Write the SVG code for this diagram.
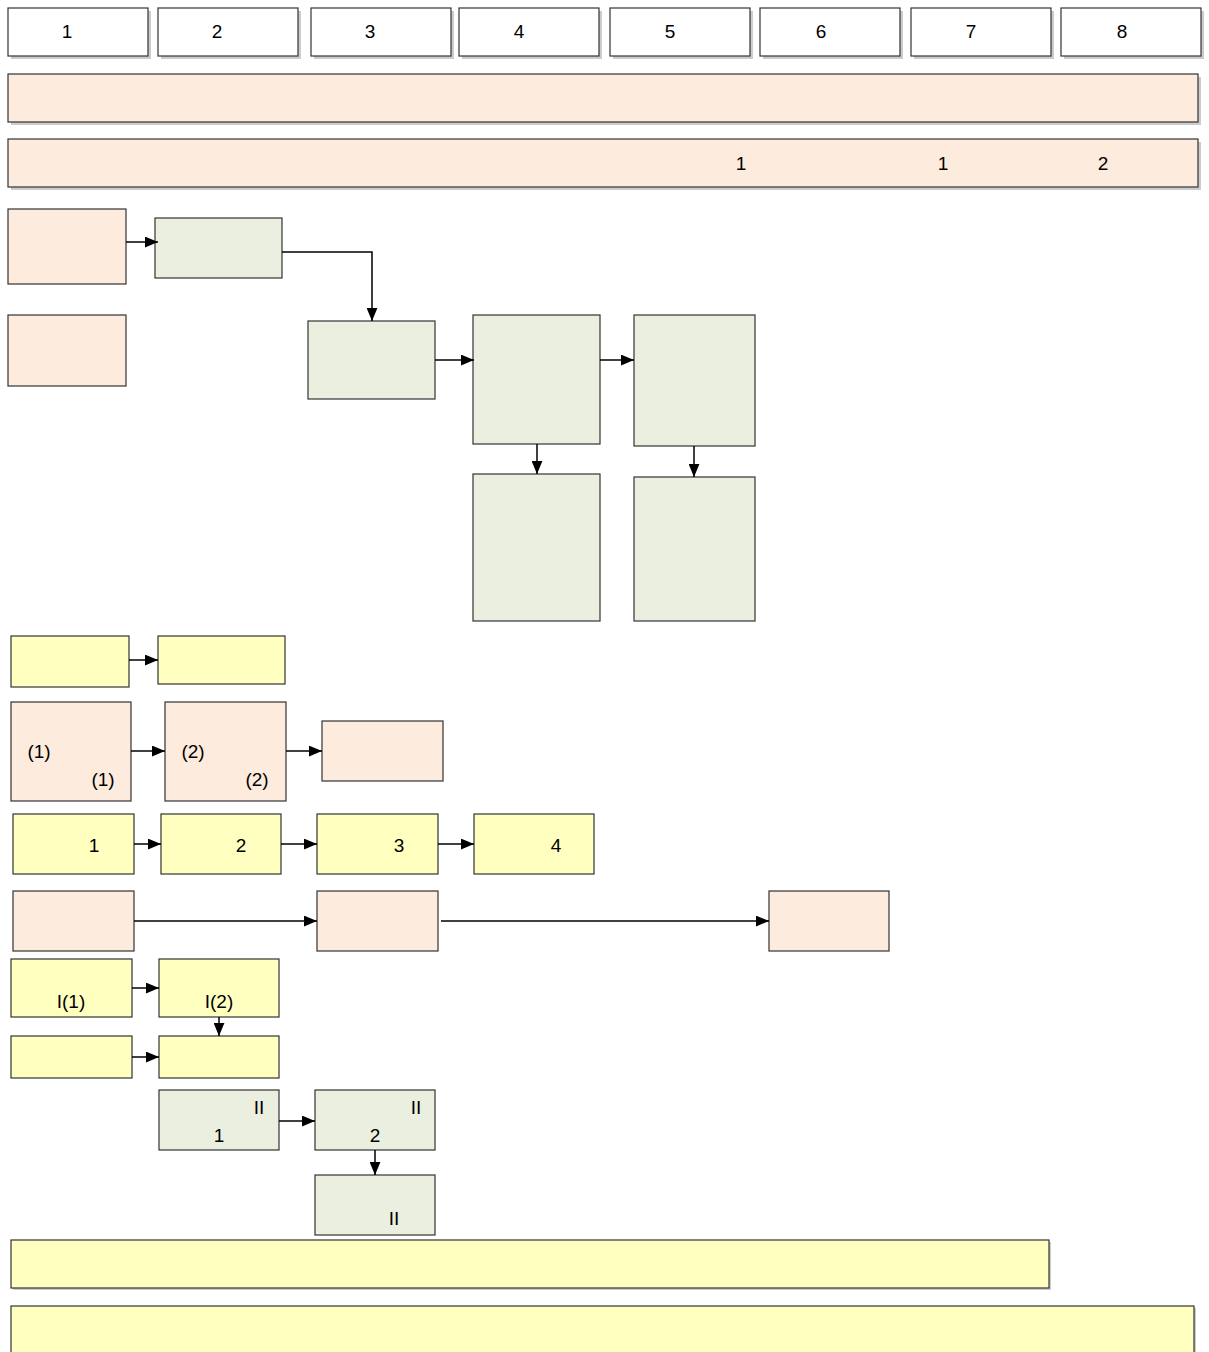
<svg xmlns="http://www.w3.org/2000/svg" width="1209" height="1352" viewBox="0 0 1209 1352">
<defs>
<style>
.w{fill:#ffffff;stroke:#333333;stroke-width:1.2}
.p{fill:#fdebdd;stroke:#333333;stroke-width:1.2}
.g{fill:#ebefdf;stroke:#333333;stroke-width:1.2}
.y{fill:#ffffc0;stroke:#333333;stroke-width:1.2}
.sh{fill:#cccccc}
.c{fill:none;stroke:#000000;stroke-width:1.5}
text{font-family:"Liberation Sans",Arial,sans-serif;font-size:19px;fill:#000000;text-anchor:middle;dominant-baseline:central}
</style>
<marker id="a" viewBox="0 0 12 10" refX="12" refY="5" markerWidth="13" markerHeight="11" markerUnits="userSpaceOnUse" orient="auto"><path d="M0,0 L12,5 L0,10 z" fill="#000000"/></marker>
</defs>
<g id="h1"><rect class="sh" x="11" y="11" width="140" height="48"/><rect class="w" x="8" y="8" width="140" height="48"/><text x="67" y="31">1</text></g>
<g id="h2"><rect class="sh" x="161" y="11" width="140" height="48"/><rect class="w" x="158" y="8" width="140" height="48"/><text x="217" y="31">2</text></g>
<g id="h3"><rect class="sh" x="314" y="11" width="140" height="48"/><rect class="w" x="311" y="8" width="140" height="48"/><text x="370" y="31">3</text></g>
<g id="h4"><rect class="sh" x="462" y="11" width="140" height="48"/><rect class="w" x="459" y="8" width="140" height="48"/><text x="519" y="31">4</text></g>
<g id="h5"><rect class="sh" x="613" y="11" width="140" height="48"/><rect class="w" x="610" y="8" width="140" height="48"/><text x="670" y="31">5</text></g>
<g id="h6"><rect class="sh" x="763" y="11" width="140" height="48"/><rect class="w" x="760" y="8" width="140" height="48"/><text x="821" y="31">6</text></g>
<g id="h7"><rect class="sh" x="914" y="11" width="140" height="48"/><rect class="w" x="911" y="8" width="140" height="48"/><text x="971" y="31">7</text></g>
<g id="h8"><rect class="sh" x="1064" y="11" width="140" height="48"/><rect class="w" x="1061" y="8" width="140" height="48"/><text x="1122" y="31">8</text></g>
<g id="band1"><rect class="sh" x="11" y="77" width="1190" height="48"/><rect class="p" x="8" y="74" width="1190" height="48"/></g>
<g id="band2"><rect class="sh" x="11" y="142" width="1190" height="48"/><rect class="p" x="8" y="139" width="1190" height="48"/><text x="741" y="163">1</text><text x="943" y="163">1</text><text x="1103" y="163">2</text></g>
<g id="A"><rect class="p" x="8" y="209" width="118" height="75"/></g>
<g id="B"><rect class="p" x="8" y="315" width="118" height="71"/></g>
<g id="C"><rect class="g" x="155" y="218" width="127" height="60"/></g>
<g id="D"><rect class="g" x="308" y="321" width="127" height="78"/></g>
<g id="E"><rect class="g" x="473" y="315" width="127" height="129"/></g>
<g id="F"><rect class="g" x="634" y="315" width="121" height="131"/></g>
<g id="G"><rect class="g" x="473" y="474" width="127" height="147"/></g>
<g id="H"><rect class="g" x="634" y="477" width="121" height="144"/></g>
<g id="I"><rect class="y" x="11" y="636" width="118" height="51"/></g>
<g id="J"><rect class="y" x="158" y="636" width="127" height="48"/></g>
<g id="K"><rect class="p" x="11" y="702" width="120" height="99"/><text x="39" y="751">(1)</text><text x="103" y="779">(1)</text></g>
<g id="L"><rect class="p" x="165" y="702" width="121" height="99"/><text x="193" y="751">(2)</text><text x="257" y="779">(2)</text></g>
<g id="M"><rect class="p" x="322" y="721" width="121" height="60"/></g>
<g id="N1"><rect class="y" x="13" y="814" width="121" height="60"/><text x="94" y="845">1</text></g>
<g id="N2"><rect class="y" x="161" y="814" width="120" height="60"/><text x="241" y="845">2</text></g>
<g id="N3"><rect class="y" x="317" y="814" width="121" height="60"/><text x="399" y="845">3</text></g>
<g id="N4"><rect class="y" x="474" y="814" width="120" height="60"/><text x="556" y="845">4</text></g>
<g id="O1"><rect class="p" x="13" y="891" width="121" height="60"/></g>
<g id="O2"><rect class="p" x="317" y="891" width="121" height="60"/></g>
<g id="O3"><rect class="p" x="769" y="891" width="120" height="60"/></g>
<g id="P1"><rect class="y" x="11" y="959" width="121" height="58"/><text x="71" y="1001">I(1)</text></g>
<g id="P2"><rect class="y" x="159" y="959" width="120" height="58"/><text x="219" y="1001">I(2)</text></g>
<g id="Q1"><rect class="y" x="11" y="1036" width="121" height="42"/></g>
<g id="Q2"><rect class="y" x="159" y="1036" width="120" height="42"/></g>
<g id="R1"><rect class="g" x="159" y="1090" width="120" height="60"/><text x="259" y="1107">II</text><text x="219" y="1135">1</text></g>
<g id="R2"><rect class="g" x="315" y="1090" width="120" height="60"/><text x="416" y="1107">II</text><text x="375" y="1135">2</text></g>
<g id="S"><rect class="g" x="315" y="1175" width="120" height="60"/><text x="394" y="1218">II</text></g>
<g id="T"><rect class="sh" x="13" y="1242" width="1038" height="48"/><rect class="y" x="11" y="1240" width="1038" height="48"/></g>
<g id="U"><rect class="sh" x="13" y="1308" width="1183" height="60"/><rect class="y" x="11" y="1306" width="1183" height="60"/></g>
<g id="connectors">
<path class="c" marker-end="url(#a)" d="M126,242 L158,242"/>
<path class="c" marker-end="url(#a)" d="M282,252 L372,252 L372,321"/>
<path class="c" marker-end="url(#a)" d="M435,360 L474,360"/>
<path class="c" marker-end="url(#a)" d="M600,360 L634,360"/>
<path class="c" marker-end="url(#a)" d="M537,444 L537,474"/>
<path class="c" marker-end="url(#a)" d="M694,446 L694,477"/>
<path class="c" marker-end="url(#a)" d="M129,660 L158,660"/>
<path class="c" marker-end="url(#a)" d="M131,751 L165,751"/>
<path class="c" marker-end="url(#a)" d="M286,751 L322,751"/>
<path class="c" marker-end="url(#a)" d="M134,844 L161,844"/>
<path class="c" marker-end="url(#a)" d="M281,844 L317,844"/>
<path class="c" marker-end="url(#a)" d="M438,844 L474,844"/>
<path class="c" marker-end="url(#a)" d="M134,921 L317,921"/>
<path class="c" marker-end="url(#a)" d="M441,921 L769,921"/>
<path class="c" marker-end="url(#a)" d="M132,988 L159,988"/>
<path class="c" marker-end="url(#a)" d="M219,1017 L219,1036"/>
<path class="c" marker-end="url(#a)" d="M132,1057 L159,1057"/>
<path class="c" marker-end="url(#a)" d="M279,1121 L315,1121"/>
<path class="c" marker-end="url(#a)" d="M375,1150 L375,1175"/>
</g>
</svg>
